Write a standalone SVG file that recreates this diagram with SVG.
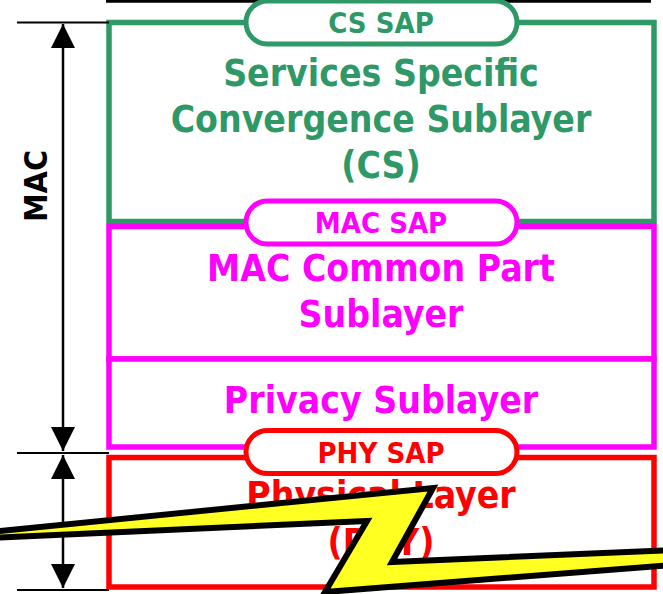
<svg xmlns="http://www.w3.org/2000/svg" width="663" height="594" viewBox="0 0 663 594">
<style>
  .t { font-family: "DejaVu Sans", "Liberation Sans", sans-serif; font-weight: bold; font-stretch: condensed; text-anchor: middle; }
  .big { font-size: 37px; }
  .sap { font-size: 29px; }
  .g { fill: #2e9966; }
  .m { fill: #ff00ff; }
  .r { fill: #ff0000; }
  .box { fill: #ffffff; stroke-width: 5.5; }
  .pill { fill: #ffffff; stroke-width: 5; }
  .dim { stroke: #000000; stroke-width: 2.5; fill: none; }
  .tick { stroke: #000000; stroke-width: 2; }
</style>
<defs>
  <marker id="ah" viewBox="0 0 24 36" refX="24" refY="18" markerWidth="24" markerHeight="36" markerUnits="userSpaceOnUse" orient="auto-start-reverse">
    <path d="M0,6 L24,18 L0,30 Z" fill="#000000"/>
  </marker>
</defs>
<rect width="663" height="594" fill="#ffffff"/>
<line x1="106" y1="1.3" x2="651" y2="1.3" stroke="#000000" stroke-width="3"/>

<g id="cs">
  <rect class="box" x="109" y="22.5" width="545" height="199" stroke="#2e9966"/>
  <text class="t big g" x="381" y="86">Services Specific</text>
  <text class="t big g" x="381" y="132">Convergence Sublayer</text>
  <text class="t big g" x="381" y="178">(CS)</text>
</g>
<g id="mac-cps">
  <rect class="box" x="109" y="226.5" width="545" height="132.5" stroke="#ff00ff"/>
  <text class="t big m" x="381" y="281">MAC Common Part</text>
  <text class="t big m" x="381" y="327">Sublayer</text>
</g>
<g id="privacy">
  <rect class="box" x="109" y="359" width="545" height="88" stroke="#ff00ff"/>
  <text class="t big m" x="381" y="413">Privacy Sublayer</text>
</g>
<g id="phy">
  <rect class="box" x="109" y="457.5" width="545" height="129.5" stroke="#ff0000"/>
  <text class="t big r" x="381" y="508">Physical Layer</text>
  <text class="t big r" x="381" y="555">(PHY)</text>
</g>
<g id="cs-sap">
  <rect class="pill" x="246" y="1" width="271" height="43" rx="21.5" stroke="#2e9966"/>
  <text class="t sap g" x="381" y="33">CS SAP</text>
</g>
<g id="mac-sap">
  <rect class="pill" x="246" y="201" width="271" height="43" rx="21.5" stroke="#ff00ff"/>
  <text class="t sap m" x="381" y="233">MAC SAP</text>
</g>
<g id="phy-sap">
  <rect class="pill" x="246" y="430.5" width="271" height="43" rx="21.5" stroke="#ff0000"/>
  <text class="t sap r" x="381" y="462.5">PHY SAP</text>
</g>

<g id="connectors">
  <line class="tick" x1="17" y1="22.5" x2="109" y2="22.5"/>
  <line class="tick" x1="17" y1="453" x2="109" y2="453"/>
  <line class="tick" x1="17" y1="590" x2="109" y2="590"/>
  <line class="dim" x1="63" y1="24" x2="63" y2="451" marker-start="url(#ah)" marker-end="url(#ah)"/>
  <line class="dim" x1="63" y1="455" x2="63" y2="588" marker-start="url(#ah)" marker-end="url(#ah)"/>
</g>
<g id="mac-label">
  <text class="t" x="0" y="0" font-size="32" transform="translate(47,186) rotate(-90)">MAC</text>
</g>

<g id="lightning">
  <polygon points="-10,532 433,488 392,562 672,550 672,565 325,592 367,521 -10,538" fill="#ffff22" stroke="#000000" stroke-width="6" stroke-linejoin="miter"/>
</g>
</svg>
